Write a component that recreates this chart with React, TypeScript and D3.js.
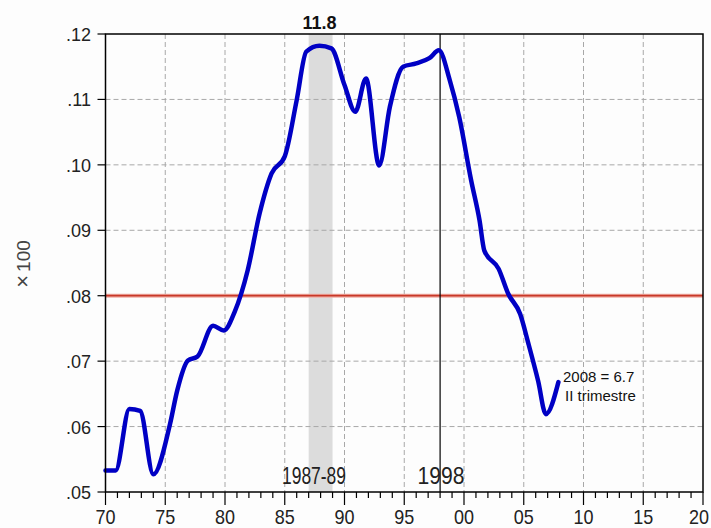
import React from "react";
import * as d3 from "d3";

const years = [1970, 1970.85, 1972.0, 1972.9, 1974.0, 1975.4, 1976.0, 1976.9, 1977.7, 1979.0, 1979.9, 1980.8, 1981.9, 1982.9, 1983.9, 1985.0, 1986.0, 1986.8, 1987.9, 1988.9, 1990.0, 1990.9, 1991.8, 1992.9, 1993.8, 1994.9, 1996.0, 1997.1, 1997.9, 1998.8, 1999.6, 2000.6, 2001.3, 2001.7, 2002.9, 2003.7, 2004.7, 2005.4, 2006.2, 2006.85, 2007.9];
const values = [0.0533, 0.0533, 0.0627, 0.0624, 0.0527, 0.0604, 0.0655, 0.0701, 0.0707, 0.0754, 0.0747, 0.0775, 0.0839, 0.0926, 0.0987, 0.1013, 0.1099, 0.1173, 0.1182, 0.1178, 0.1122, 0.1081, 0.1132, 0.0999, 0.1089, 0.115, 0.1155, 0.1163, 0.1175, 0.113, 0.1073, 0.0976, 0.0915, 0.0869, 0.0841, 0.0803, 0.0772, 0.0726, 0.067, 0.0619, 0.0668];
const xTicks = [1970, 1975, 1980, 1985, 1990, 1995, 2000, 2005, 2010, 2015, 2020];
const xTickLabels = ["70", "75", "80", "85", "90", "95", "00", "05", "10", "15", "20"];
const yTicks = [0.05, 0.06, 0.07, 0.08, 0.09, 0.1, 0.11, 0.12];
const yTickLabels = [".05", ".06", ".07", ".08", ".09", ".10", ".11", ".12"];
const referenceLevel = 0.08;
const shadedPeriod = [1987, 1989];
const markerYear = 1998;
const peakLabel = "11.8";
const periodLabel = "1987-89";
const markerLabel = "1998";
const endLabel1 = "2008 = 6.7";
const endLabel2 = "II trimestre";

const W = 711, H = 528;
const L = 105.5, R = 703, T = 34, B = 492;
const SANS = "'Liberation Sans', Arial, sans-serif";

export default function App() {
  const x = d3.scaleLinear().domain([1970, 2020]).range([L, R]);
  const y = d3.scaleLinear().domain([0.05, 0.12]).range([B, T]);
  const line = d3.line<number>().x((_, i) => x(years[i])).y((d) => y(d)).curve(d3.curveMonotoneX);
  const minorTicks = d3.range(1970, 2021, 1);
  const last = xTicks.length - 1;
  return (
    <svg width={W} height={H} style={{ position: "absolute", left: 0, top: 0, background: "#fff" }}>
      <rect x={0} y={0} width={W} height={H} fill="#fdfdfd" />
      <rect x={x(shadedPeriod[0])} y={T} width={x(shadedPeriod[1]) - x(shadedPeriod[0])} height={B - T} fill="#dcdcdc" />
      {xTicks.slice(1, -1).map((t) => (
        <line key={"gx" + t} x1={x(t)} x2={x(t)} y1={T} y2={B} stroke="#a8a8a8" strokeWidth={1} strokeDasharray="5,3" />
      ))}
      {yTicks.slice(1, -1).map((t) => (
        <line key={"gy" + t} x1={L} x2={R} y1={y(t)} y2={y(t)} stroke="#a8a8a8" strokeWidth={1} strokeDasharray="5,3" />
      ))}
      <line x1={L} x2={R} y1={y(referenceLevel)} y2={y(referenceLevel)} stroke="#f0b0a8" strokeWidth={4} />
      <line x1={L} x2={R} y1={y(referenceLevel)} y2={y(referenceLevel)} stroke="#c83828" strokeWidth={1.8} />
      <line x1={x(markerYear)} x2={x(markerYear)} y1={T} y2={B} stroke="#000" strokeWidth={1.2} />
      <path d={line(values) || ""} fill="none" stroke="#0000c4" strokeWidth={4.5} strokeLinejoin="round" strokeLinecap="round" />
      <rect x={L} y={T} width={R - L} height={B - T} fill="none" stroke="#000" strokeWidth={1.5} />
      {yTicks.map((t, i) => (
        <g key={"yt" + t}>
          <line x1={L - 8} x2={L} y1={y(t)} y2={y(t)} stroke="#000" strokeWidth={1.2} />
          <text x={91} y={y(t) + 7} textAnchor="end" fontFamily={SANS} fontSize={18} fill="#222">{yTickLabels[i]}</text>
        </g>
      ))}
      {minorTicks.map((t) => (
        <line key={"mt" + t} x1={x(t)} x2={x(t)} y1={B} y2={B + (t % 5 === 0 ? 13 : 6)} stroke="#000" strokeWidth={1.2} />
      ))}
      {xTicks.map((t, i) => (
        <text key={"xl" + t} x={i === last ? 709 : x(t)} y={524} textAnchor={i === last ? "end" : "middle"} fontFamily={SANS} fontSize={21} textLength={20} lengthAdjust="spacingAndGlyphs" fill="#222">{xTickLabels[i]}</text>
      ))}
      <text x={x((shadedPeriod[0] + shadedPeriod[1]) / 2) - 1} y={29} textAnchor="middle" fontFamily={SANS} fontWeight="bold" fontSize={18} fill="#111">{peakLabel}</text>
      <text x={314} y={484} textAnchor="middle" fontFamily={SANS} fontSize={24} textLength={64} lengthAdjust="spacingAndGlyphs" fill="#222">{periodLabel}</text>
      <text x={441} y={484} textAnchor="middle" fontFamily={SANS} fontSize={24} textLength={47} lengthAdjust="spacingAndGlyphs" fill="#222">{markerLabel}</text>
      <text x={563} y={382} fontFamily={SANS} fontSize={15} fill="#111">{endLabel1}</text>
      <text x={565} y={401} fontFamily={SANS} fontSize={15} fill="#111">{endLabel2}</text>
      <text transform={`translate(30,264) rotate(-90)`} textAnchor="middle" fontFamily={SANS} fill="#444">
        <tspan fontSize={22}>×</tspan>
        <tspan fontSize={19} dx={3}>100</tspan>
      </text>
    </svg>
  );
}
